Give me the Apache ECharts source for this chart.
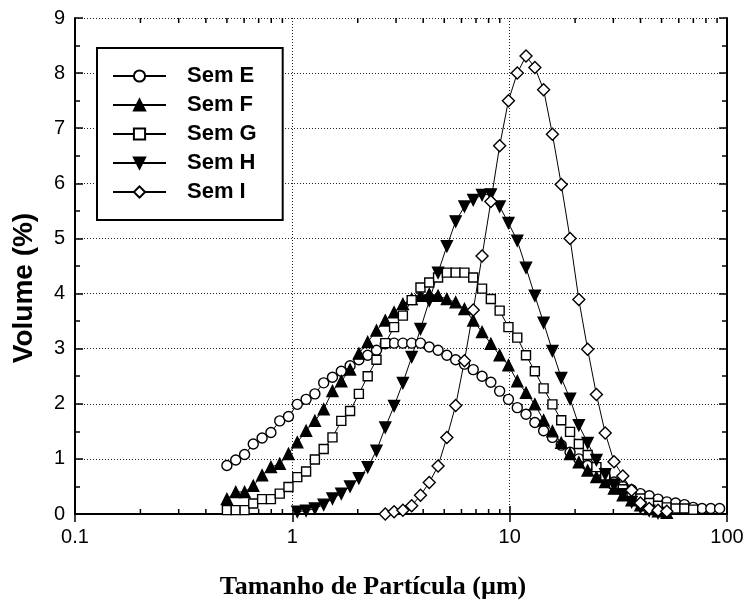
<!DOCTYPE html>
<html>
<head>
<meta charset="utf-8">
<script src="https://cdn.jsdelivr.net/npm/echarts@6/dist/echarts.min.js"></script>
<style>
  html, body { margin: 0; padding: 0; background: #fff; }
  #chart { width: 749px; height: 605px; }
</style>
</head>
<body>
<div id="chart"></div>
<script>
// particle size classes (µm), shared by all samples
const sizes = [
    0.500, 0.549, 0.603, 0.661, 0.726, 0.797, 0.875, 0.960, 1.054, 1.157,
    1.270, 1.394, 1.530, 1.680, 1.844, 2.024, 2.222, 2.439, 2.677, 2.939,
    3.226, 3.541, 3.887, 4.266, 4.683, 5.141, 5.643, 6.194, 6.799, 7.464,
    8.193, 8.993, 9.872, 10.84, 11.89, 13.06, 14.33, 15.73, 17.27, 18.96,
    20.81, 22.84, 25.07, 27.52, 30.21, 33.16, 36.40, 39.96, 43.86, 48.15,
    52.85, 58.01, 63.68, 69.90, 76.73, 84.22, 92.45
];

// volume (%) per sample, starting at sizes[start]
const semE = [
    0.88, 0.98, 1.08, 1.27, 1.38, 1.48, 1.69, 1.77, 1.99, 2.08,
    2.18, 2.38, 2.48, 2.59, 2.69, 2.80, 2.88, 2.97, 3.09, 3.10,
    3.10, 3.10, 3.10, 3.03, 2.97, 2.88, 2.80, 2.72, 2.62, 2.50,
    2.39, 2.23, 2.08, 1.93, 1.81, 1.66, 1.51, 1.39, 1.25, 1.12,
    1.00, 0.88, 0.77, 0.67, 0.58, 0.50, 0.44, 0.37, 0.33, 0.27,
    0.22, 0.20, 0.17, 0.12, 0.10, 0.10, 0.10
];
const semF = [
    0.27, 0.40, 0.40, 0.51, 0.70, 0.85, 0.91, 1.09, 1.30, 1.51,
    1.69, 1.90, 2.23, 2.41, 2.62, 2.91, 3.12, 3.33, 3.51, 3.66,
    3.81, 3.90, 3.96, 3.99, 3.96, 3.90, 3.84, 3.72, 3.51, 3.30,
    3.09, 2.88, 2.70, 2.41, 2.20, 1.99, 1.70, 1.50, 1.29, 1.09,
    0.94, 0.79, 0.67, 0.58, 0.46, 0.34, 0.25, 0.16, 0.09, 0.05,
    0.02
];
const semG = [
    0.07, 0.07, 0.07, 0.19, 0.27, 0.27, 0.37, 0.49, 0.67, 0.77,
    0.99, 1.18, 1.39, 1.69, 1.87, 2.18, 2.50, 2.80, 3.10, 3.39,
    3.60, 3.88, 4.11, 4.20, 4.29, 4.38, 4.38, 4.38, 4.29, 4.09,
    3.90, 3.69, 3.39, 3.20, 2.88, 2.59, 2.28, 1.99, 1.70, 1.49,
    1.27, 1.07, 0.85, 0.70, 0.55, 0.45, 0.35, 0.28, 0.20, 0.15,
    0.12, 0.10, 0.10, 0.08
];
const semH = [
    0.04, 0.06, 0.10, 0.17, 0.28, 0.37, 0.50, 0.65, 0.85, 1.15,
    1.57, 1.96, 2.38, 2.85, 3.36, 3.87, 4.38, 4.86, 5.31, 5.58,
    5.70, 5.79, 5.80, 5.58, 5.28, 4.96, 4.47, 3.96, 3.47, 2.96,
    2.47, 2.09, 1.61, 1.29, 0.98, 0.72, 0.52, 0.36, 0.22, 0.12,
    0.06, 0.02
];
const semI = [
    0.00, 0.04, 0.07, 0.15, 0.34, 0.57, 0.87, 1.39, 1.97, 2.78,
    3.70, 4.68, 5.67, 6.68, 7.50, 8.00, 8.31, 8.10, 7.70, 6.89,
    5.98, 5.00, 3.89, 2.99, 2.17, 1.47, 0.95, 0.69, 0.43, 0.20,
    0.10, 0.07, 0.05
];

const samples = [
    { name: 'Sem E', values: semE, start: 0, symbol: 'circle', size: 10, fill: '#fff', rotate: 0 },
    { name: 'Sem F', values: semF, start: 0, symbol: 'triangle', size: 11, fill: '#000', rotate: 0 },
    { name: 'Sem G', values: semG, start: 0, symbol: 'rect', size: 9, fill: '#fff', rotate: 0 },
    { name: 'Sem H', values: semH, start: 8, symbol: 'triangle', size: 11, fill: '#000', rotate: 180 },
    { name: 'Sem I', values: semI, start: 18, symbol: 'diamond', size: 12, fill: '#fff', rotate: 0 }
];

// log minor tick positions
const minorTicks = [0.2, 0.3, 0.4, 0.5, 0.6, 0.7, 0.8, 0.9,
    2, 3, 4, 5, 6, 7, 8, 9, 20, 30, 40, 50, 60, 70, 80, 90];

const chart = echarts.init(document.getElementById('chart'));

const dotted = { show: true, lineStyle: { color: '#222', width: 1, type: [1, 2] } };
const frame = { show: true, lineStyle: { color: '#000', width: 2 } };

const lineSeries = samples.map(s => ({
    name: s.name,
    type: 'line',
    symbol: s.symbol,
    symbolSize: s.size,
    symbolRotate: s.rotate,
    showAllSymbol: true,
    xAxisIndex: 0,
    yAxisIndex: 0,
    itemStyle: { color: s.fill, borderColor: '#000', borderWidth: 1.4 },
    lineStyle: { color: '#000', width: 1 },
    emphasis: { disabled: true },
    animation: false,
    data: s.values.map((v, k) => [sizes[s.start + k], v])
}));

const option = {
    animation: false,
    grid: { left: 75, right: 22, top: 18, bottom: 86 },
    legend: {
        data: samples.map(s => s.name),
        orient: 'vertical',
        left: 97,
        top: 48,
        itemWidth: 53,
        itemHeight: 14,
        itemGap: 7,
        padding: [17, 26, 17, 15],
        backgroundColor: '#fff',
        borderColor: '#000',
        borderWidth: 2,
        textStyle: {
            fontFamily: 'Liberation Sans',
            fontWeight: 'bold',
            fontSize: 22,
            color: '#000',
            padding: [0, 0, 0, 16]
        }
    },
    xAxis: [
        {
            type: 'log',
            logBase: 10,
            min: 0.1,
            max: 100,
            position: 'bottom',
            name: 'Tamanho de Partícula (µm)',
            nameLocation: 'middle',
            nameGap: 60,
            nameTextStyle: {
                fontFamily: 'Liberation Serif', fontWeight: 'bold', fontSize: 26, color: '#000',
                padding: [0, 56, 0, 0]
            },
            axisLine: frame,
            axisTick: { show: true, inside: true, length: 8, lineStyle: { color: '#000', width: 1.5 } },
            axisLabel: {
                fontFamily: 'Liberation Sans', fontSize: 20, color: '#000', margin: 13,
                formatter: v => String(parseFloat(v.toPrecision(2)))
            },
            splitLine: dotted
        },
        {
            type: 'log',
            logBase: 10,
            min: 0.1,
            max: 100,
            position: 'top',
            axisLine: frame,
            axisTick: { show: true, inside: true, length: 8, lineStyle: { color: '#000', width: 1.5 } },
            axisLabel: { show: false },
            splitLine: { show: false }
        }
    ],
    yAxis: [
        {
            type: 'value',
            min: 0,
            max: 9,
            interval: 1,
            position: 'left',
            name: 'Volume (%)',
            nameLocation: 'middle',
            nameGap: 37,
            nameTextStyle: {
                fontFamily: 'Liberation Sans', fontWeight: 'bold', fontSize: 28, color: '#000',
                padding: [0, 44, 0, 0]
            },
            axisLine: frame,
            axisTick: { show: true, inside: true, length: 8, lineStyle: { color: '#000', width: 1.5 } },
            minorTick: { show: true, splitNumber: 2, length: 5, lineStyle: { color: '#000', width: 1.5 } },
            axisLabel: { fontFamily: 'Liberation Sans', fontSize: 20, color: '#000', margin: 10 },
            splitLine: dotted
        },
        {
            type: 'value',
            min: 0,
            max: 9,
            interval: 1,
            position: 'right',
            axisLine: frame,
            axisTick: { show: true, inside: true, length: 8, lineStyle: { color: '#000', width: 1.5 } },
            minorTick: { show: true, splitNumber: 2, length: 5, lineStyle: { color: '#000', width: 1.5 } },
            axisLabel: { show: false },
            splitLine: { show: false }
        }
    ],
    series: [
        {
            type: 'custom',
            silent: true,
            xAxisIndex: 0,
            yAxisIndex: 0,
            clip: false,
            z: 1,
            data: minorTicks.map(v => [v, 0]),
            encode: { x: 0, y: 1 },
            renderItem: function (params, api) {
                const v = api.value(0);
                const b = api.coord([v, 0]);
                const t = api.coord([v, 9]);
                const st = { stroke: '#000', lineWidth: 1.5 };
                return {
                    type: 'group',
                    children: [
                        { type: 'line', shape: { x1: b[0], y1: b[1], x2: b[0], y2: b[1] - 5 }, style: st },
                        { type: 'line', shape: { x1: t[0], y1: t[1], x2: t[0], y2: t[1] + 5 }, style: st }
                    ]
                };
            }
        }
    ].concat(lineSeries)
};

chart.setOption(option);
</script>
</body>
</html>
